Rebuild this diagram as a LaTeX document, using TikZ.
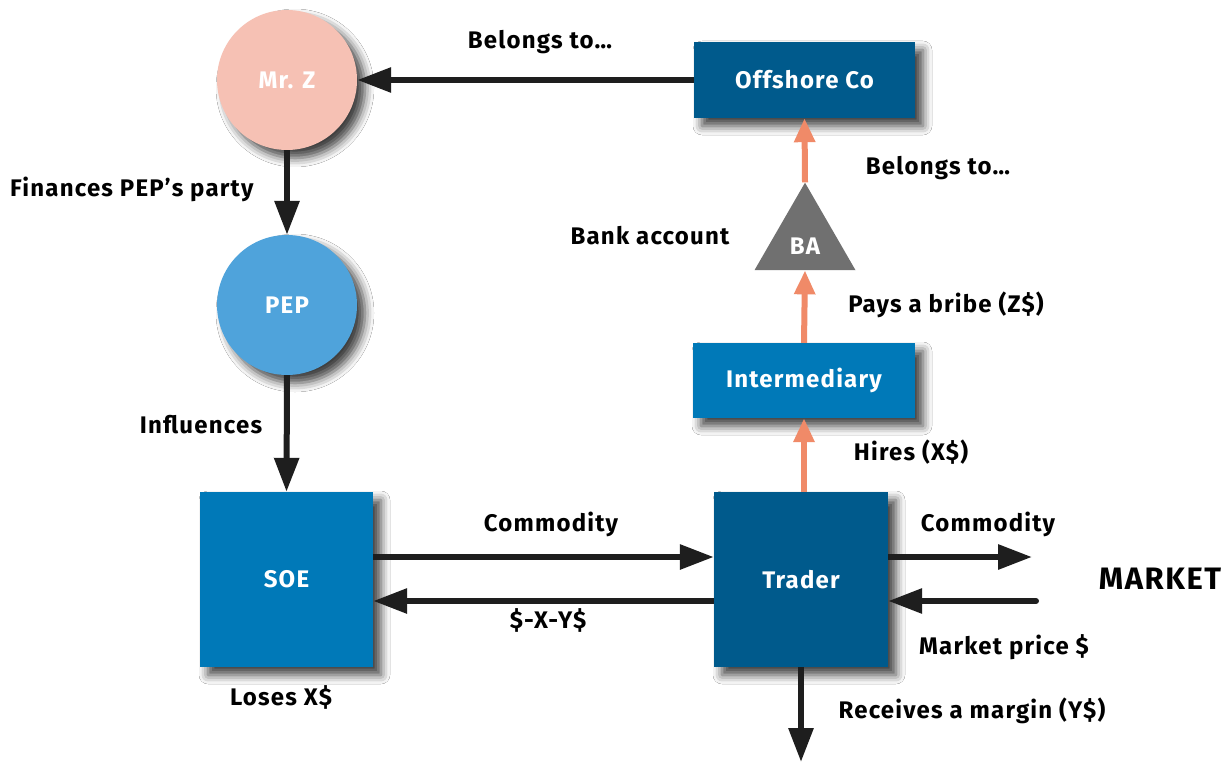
\documentclass[tikz,border=0pt]{standalone}
\usepackage{fontspec}
\setmainfont[LetterSpace=5]{Fira Sans}
\usetikzlibrary{arrows.meta,shapes.geometric,shadows.blur}
\definecolor{mrz}{HTML}{F6C1B4}
\definecolor{pep}{HTML}{4FA3DB}
\definecolor{lightblue}{HTML}{0079B8}
\definecolor{darkblue}{HTML}{005A8C}
\definecolor{bagray}{HTML}{707070}
\definecolor{orangearr}{HTML}{F08A68}
\definecolor{arrblack}{HTML}{1E1E1E}
\tikzset{
  shad/.style={blur shadow={shadow xshift=8pt,shadow yshift=-8pt,shadow blur radius=9pt,shadow opacity=75}},
  box/.style={shad,draw=none,inner sep=0pt,text=white,font=\fontsize{24}{28}\selectfont\bfseries},
  circ/.style={box,circle,minimum size=140pt},
  lab/.style={font=\fontsize{24}{28}\selectfont\bfseries,text=black,inner sep=0pt},
  blk/.style={draw=arrblack,line width=6pt,-{Triangle[length=34pt,width=24pt]}},
  org/.style={draw=orangearr,line width=6pt,-{Triangle[length=24pt,width=20pt]}},
}
\begin{document}
\begin{tikzpicture}[x=1pt,y=-1pt]
\useasboundingbox[fill=white] (0,0) rectangle (1231,762);
% nodes
\node[circ,fill=mrz] (mrz) at (287,80) {Mr. Z};
\node[circ,fill=pep] (pep) at (287,305) {PEP};
\node[box,fill=lightblue,minimum width=173pt,minimum height=175pt] (soe) at (286.5,579.5) {SOE};
\node[box,fill=darkblue,minimum width=174pt,minimum height=175pt] (trader) at (801,579.5) {Trader};
\node[box,fill=darkblue,minimum width=221pt,minimum height=76pt] (off) at (804.5,80) {Offshore Co};
\node[box,fill=lightblue,minimum width=222pt,minimum height=75pt] (inter) at (804,380.5) {Intermediary};
\node[regular polygon,regular polygon sides=3,minimum size=116.6pt,fill=bagray,inner sep=0pt] (ba) at (805,241) {};
\node[text=white,font=\fontsize{24}{28}\selectfont\bfseries,inner sep=0pt] (batext) at (805,246) {BA};
\coordinate (mktout) at (1032,557);
\coordinate (mktin) at (1036,601);
\coordinate (down) at (801,762);
% connectors
\draw[blk] (off.west) -- (mrz.east);
\draw[blk] (mrz.south) -- (pep.north);
\draw[blk] (pep.south) -- (soe.north);
\draw[blk] (soe.east |- 0,557) -- (trader.west |- 0,557);
\draw[blk] (trader.west |- 0,601) -- (soe.east |- 0,601);
\draw[blk] (trader.east |- 0,557) -- (mktout);
\draw[blk,line cap=round] (mktin) -- (trader.east |- 0,601);
\draw[blk] (trader.south) -- (down);
\draw[org] (trader.north -| 804,0) -- (inter.south);
\draw[org] (inter.north) -- (ba.south);
\draw[org] (ba.corner 1) -- (off.south);
% labels
\node[lab] at (540,42) {Belongs to…};
\node[lab,anchor=west] at (10,189) {Finances PEP’s party};
\node[lab] at (201,425) {Influences};
\node[lab] at (650,236) {Bank account};
\node[lab] at (938,168) {Belongs to…};
\node[lab] at (946,305) {Pays a bribe (Z\$)};
\node[lab] at (911,452) {Hires (X\$)};
\node[lab] at (551,524) {Commodity};
\node[lab] at (548,620) {\$-X-Y\$};
\node[lab] at (281,697) {Loses X\$};
\node[lab] at (988,524) {Commodity};
\node[lab,font=\fontsize{31}{35}\selectfont\bfseries] at (1160,579) {MARKET};
\node[lab] at (1004,647) {Market price \$};
\node[lab] at (972,711) {Receives a margin (Y\$)};
\end{tikzpicture}
\end{document}
